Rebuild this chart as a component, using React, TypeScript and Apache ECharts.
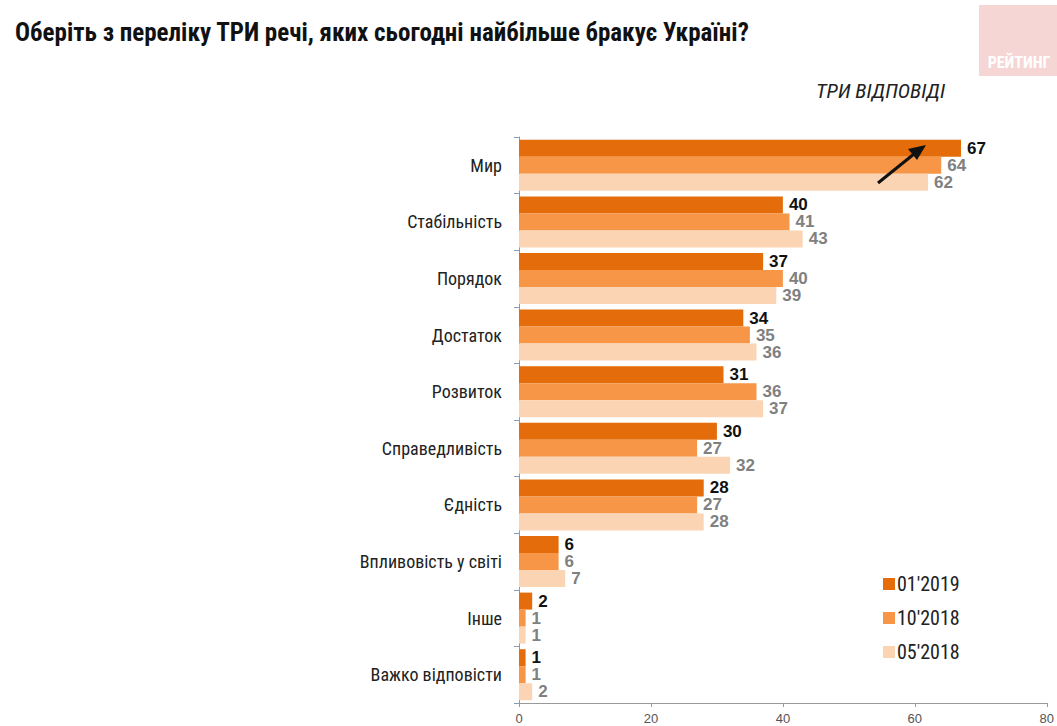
import React, { useEffect, useRef } from "react";
import * as echarts from "echarts";

const categories = [
  "Мир",
  "Стабільність",
  "Порядок",
  "Достаток",
  "Розвиток",
  "Справедливість",
  "Єдність",
  "Впливовість у світі",
  "Інше",
  "Важко відповісти",
];
const s2019_01 = [67, 40, 37, 34, 31, 30, 28, 6, 2, 1];
const s2018_10 = [64, 41, 40, 35, 36, 27, 27, 6, 1, 1];
const s2018_05 = [62, 43, 39, 36, 37, 32, 28, 7, 1, 2];
const seriesNames = ["01'2019", "10'2018", "05'2018"];
const xTicks = [0, 20, 40, 60, 80];

const FONT = "'Liberation Sans', Arial, sans-serif";
const NARROW = "'Liberation Sans Narrow', 'Roboto Condensed', Roboto, Arial, sans-serif";

export default function App() {
  const ref = useRef<HTMLDivElement>(null);
  useEffect(() => {
    if (!ref.current) return;
    const chart = echarts.init(ref.current, undefined, { renderer: "svg" });
    const colors = ["#E46C0A", "#F79646", "#FBD4B4"];
    const labelColors = ["#111111", "#808080", "#808080"];
    const data = [s2019_01, s2018_10, s2018_05];
    chart.setOption({
      animation: false,
      backgroundColor: "#ffffff",
      textStyle: { fontFamily: FONT },
      title: {
        text: "Оберіть з переліку ТРИ речі, яких сьогодні найбільше бракує Україні?",
        left: 10,
        top: 15,
        textStyle: { fontFamily: NARROW, fontSize: 25, fontWeight: "bold", color: "#111" },
      },
      legend: {
        orient: "vertical",
        left: 878,
        top: 569,
        itemWidth: 12,
        itemHeight: 12,
        itemGap: 14,
        icon: "rect",
        data: seriesNames,
        textStyle: { fontSize: 20, color: "#222", fontFamily: NARROW, padding: [0, 0, 0, -3] },
      },
      grid: { left: 519, right: 9, top: 137, height: 566, containLabel: false },
      xAxis: {
        type: "value",
        min: xTicks[0],
        max: xTicks[xTicks.length - 1],
        interval: 20,
        axisLine: { show: true, lineStyle: { color: "#999" } },
        axisTick: { show: true, length: 4, lineStyle: { color: "#999" } },
        splitLine: { show: false },
        axisLabel: { color: "#555", fontSize: 13, margin: 9 },
      },
      yAxis: {
        type: "category",
        data: categories,
        inverse: true,
        axisLine: { show: true, lineStyle: { color: "#8a9bb5" } },
        axisTick: { show: true, length: 5, lineStyle: { color: "#8a9bb5" } },
        axisLabel: { color: "#222", fontSize: 18, margin: 17, fontFamily: NARROW },
      },
      series: data.map((d, i) => ({
        name: seriesNames[i],
        type: "bar",
        data: d,
        barWidth: 17,
        barGap: "0%",
        itemStyle: { color: colors[i] },
        label: {
          show: true,
          position: "right",
          distance: 6,
          color: labelColors[i],
          fontSize: 17,
          lineHeight: 16,
          fontWeight: "bold",
          fontFamily: FONT,
        },
      })),
      graphic: [
        {
          type: "rect",
          z: 100,
          shape: { x: 979, y: 5, width: 78, height: 71 },
          style: { fill: "#F5D6D5" },
        },
        {
          type: "text",
          z: 101,
          x: 1019,
          y: 62,
          style: {
            text: "РЕЙТИНГ",
            fill: "#ffffff",
            font: "bold 16px " + NARROW,
            align: "center",
            verticalAlign: "middle",
          },
        },
        {
          type: "text",
          z: 100,
          x: 945,
          y: 91,
          style: {
            text: "ТРИ ВІДПОВІДІ",
            fill: "#222",
            font: "italic 21px " + NARROW,
            align: "right",
            verticalAlign: "middle",
          },
        },
        {
          type: "line",
          z: 100,
          shape: { x1: 878, y1: 183, x2: 914, y2: 154 },
          style: { stroke: "#111", lineWidth: 3 },
        },
        {
          type: "polygon",
          z: 100,
          shape: { points: [[926, 145], [908, 149], [917, 160]] },
          style: { fill: "#111" },
        },
      ],
    });
    return () => chart.dispose();
  }, []);
  return (
    <div
      ref={ref}
      style={{ position: "absolute", left: 0, top: 0, width: 1057, height: 726 }}
    />
  );
}
